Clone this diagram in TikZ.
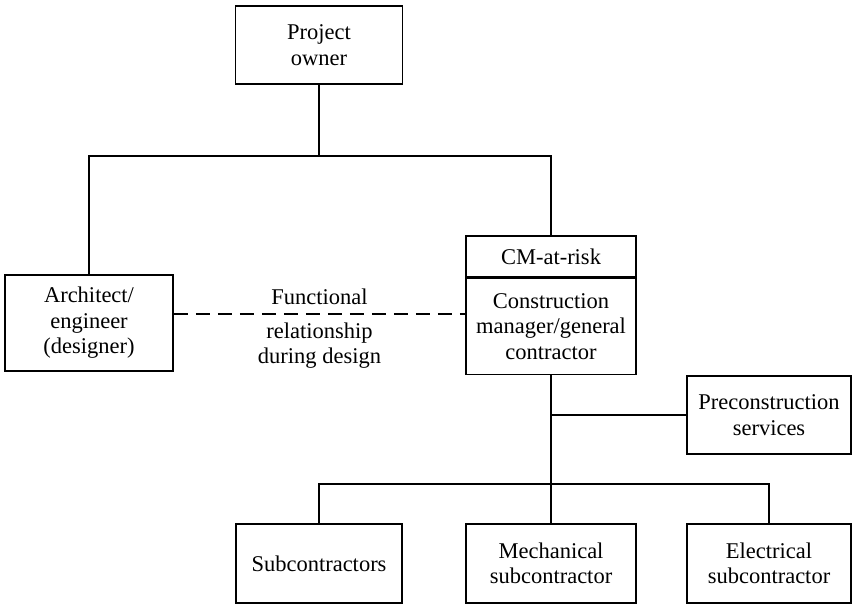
\documentclass[tikz,border=0pt]{standalone}
\usepackage{fontspec}
\setmainfont{Liberation Serif}
\usetikzlibrary{positioning}

\begin{document}
\begin{tikzpicture}[x=1pt,y=-1pt,line width=1.6pt,
  box node/.style={rectangle,draw,align=center,inner sep=2pt,font=\fontsize{22.5}{25.5}\selectfont},
  label node/.style={align=center,inner sep=2pt,font=\fontsize{22.5}{25.5}\selectfont}]

  \useasboundingbox (0,0) rectangle (852,604);

  % top of the chart
  \node[box node,minimum width=167,minimum height=78] (owner) at (319,45) {Project\\owner};
  \node[box node,minimum width=168,minimum height=96] (arch) at (89,323) {Architect/\\engineer\\(designer)};
  \node[box node,minimum width=170,minimum height=41] (cmtop) at (551,256.5) {CM-at-risk};
  \node[box node,minimum width=170,minimum height=96] (cm) [below=0pt of cmtop] {Construction\\manager/general\\contractor};
  \node[box node,minimum width=164,minimum height=78] (precon) at (769,415) {Preconstruction\\services};

  % subcontractors
  \node[box node,minimum width=166,minimum height=79] (sub) at (319,563.5) {Subcontractors};
  \node[box node,minimum width=170,minimum height=79] (mech) at (551,563.5) {Mechanical\\subcontractor};
  \node[box node,minimum width=164,minimum height=79] (elec) at (769,563.5) {Electrical\\subcontractor};

  \coordinate (topbus) at (319,156);
  \coordinate (lowbus) at (551,484);

  \draw (owner.south) -- (topbus);
  \draw (arch.north) |- (topbus) -| (cmtop.north);

  \coordinate (dashL) at ([yshift=9pt]arch.east);
  \coordinate (dashR) at (dashL -| cm.west);
  \path (dashL) edge[dash pattern=on 14pt off 8pt] node[label node,above=6pt] {Functional}
    node[label node,below=6pt] {relationship\\during design} (dashR);

  \draw (cm.south) -- (lowbus) -- (mech.north);
  \draw (cm.south |- precon.west) -- (precon.west);
  \draw (sub.north) |- (lowbus) -| (elec.north);
\end{tikzpicture}
\end{document}
